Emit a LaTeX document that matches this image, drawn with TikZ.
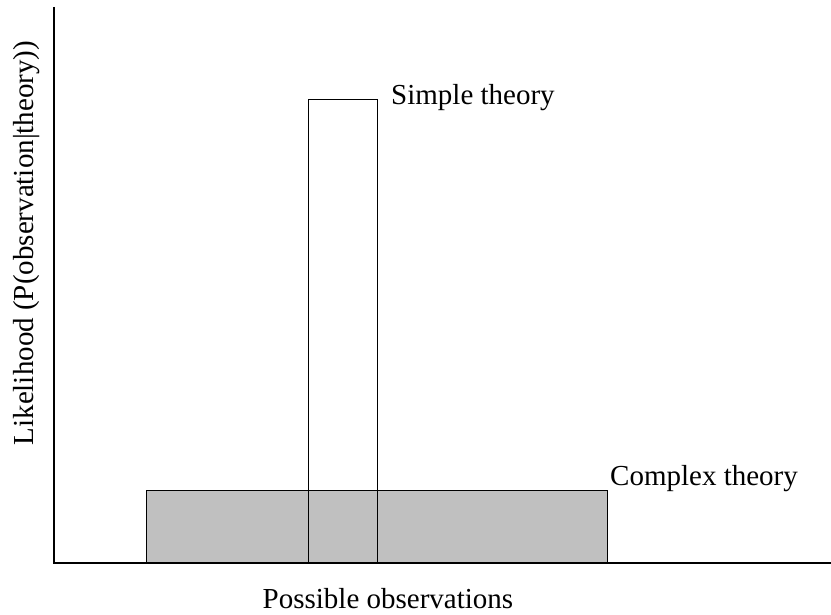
\documentclass[tikz,border=0pt]{standalone}
\usepackage{fontspec}
\setmainfont{Liberation Serif}
\begin{document}
\begin{tikzpicture}[x=1pt,y=-1pt,
  lbl/.style={inner sep=0pt,font=\fontsize{29}{34}\selectfont},
  axis/.style={draw=black,line width=2pt},
  bar/.style={draw=black,line width=1pt}]
\useasboundingbox (0,0) rectangle (831,615);
\definecolor{barfill}{HTML}{C0C0C0}
% complex theory bar
\filldraw[bar,fill=barfill] (146,490) rectangle (607,563);
% simple theory bar
\draw[bar] (308,563) -- (308,100) -- (377,100) -- (377,563);
% axes
\coordinate (top) at (54,7);
\coordinate (origin) at (54,563);
\coordinate (right) at (831,563);
\draw[axis] (top) -- (origin) -- (right);
% labels
\node[lbl,anchor=base west] (simple) at (391,105) {Simple theory};
\node[lbl,anchor=base west] (complex) at (610,485) {Complex theory};
\node[lbl,anchor=base] (xlab) at (388,608) {Possible observations};
\node[lbl,anchor=base,rotate=90] (ylab) at (33,243) {Likelihood (P(observation|theory))};
\end{tikzpicture}
\end{document}
